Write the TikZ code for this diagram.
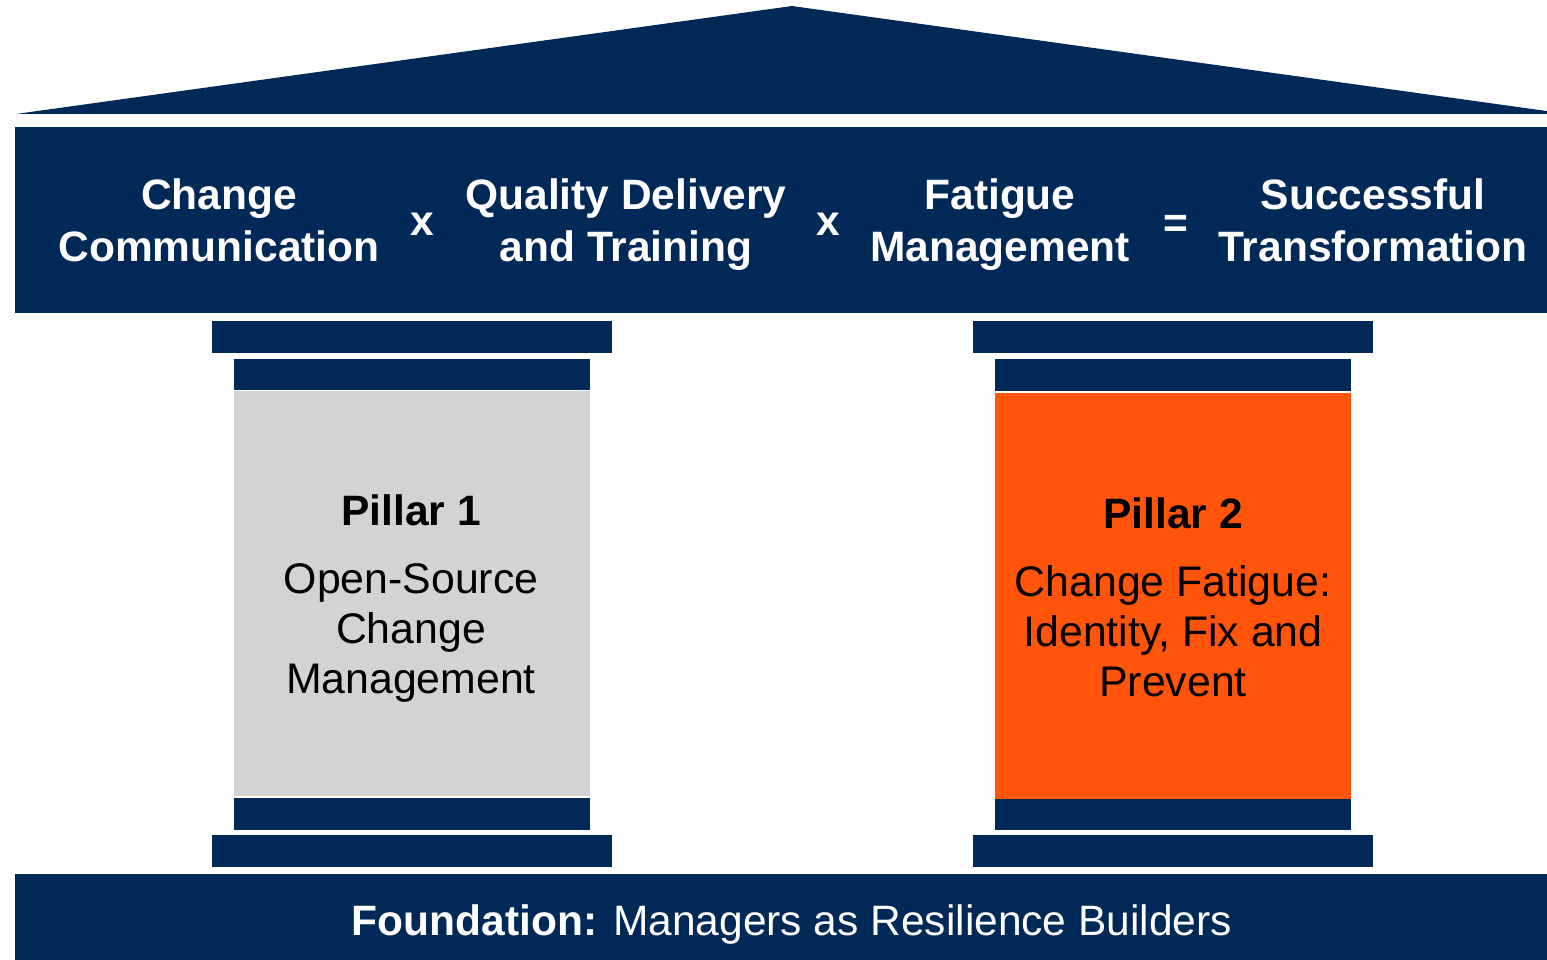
\documentclass[tikz,border=0pt]{standalone}
\usepackage{fontspec}
\setmainfont{Liberation Sans}
\definecolor{navy}{RGB}{0,41,87}
\definecolor{pillarorange}{RGB}{255,84,10}
\definecolor{pillargray}{RGB}{211,211,211}
\tikzset{
  toptext/.style={text=white,font=\fontsize{42.5}{50}\selectfont\bfseries,inner sep=0pt,anchor=base},
  optext/.style={text=white,font=\fontsize{42.5}{50}\selectfont\bfseries,inner sep=0pt,anchor=center},
  ptitle/.style={text=black,font=\fontsize{42.5}{50}\selectfont\bfseries,inner sep=0pt,anchor=base},
  pline/.style={text=black,font=\fontsize{42.8}{50}\selectfont,inner sep=0pt,anchor=base},
  foundtext/.style={text=white,font=\fontsize{42.5}{50}\selectfont,inner sep=0pt,anchor=base},
}
\begin{document}
\begin{tikzpicture}[x=1pt,y=-1pt]
\useasboundingbox (0,0) rectangle (1547,960);
\clip (0,0) rectangle (1547,960);
\fill[white] (0,0) rectangle (1547,960);
% roof
\fill[navy] (16,114) -- (792,6) -- (1568,114) -- cycle;
% beam
\fill[navy] (15,127) rectangle (1570,313);
% left pillar
\fill[navy] (212,321) rectangle (612,353);
\fill[navy] (234,359) rectangle (590,390);
\fill[pillargray] (234,391) rectangle (590,796);
\fill[navy] (234,798) rectangle (590,830);
\fill[navy] (212,835) rectangle (612,867);
% right pillar
\fill[navy] (973,321) rectangle (1373,353);
\fill[navy] (995,359) rectangle (1351,391);
\fill[pillarorange] (995,393) rectangle (1351,799);
\fill[navy] (995,799) rectangle (1351,830);
\fill[navy] (973,835) rectangle (1373,867);
% foundation
\fill[navy] (15,874) rectangle (1570,962);
% beam texts
\node[toptext] (t1a) at (219,210) {Change};
\node[toptext] (t1b) at (219,261) {Communication};
\node[optext] (x1) at (422,224) {x};
\node[toptext] (t2a) at (626,210) {Quality Delivery};
\node[toptext] (t2b) at (626,261) {and Training};
\node[optext] (x2) at (828,224) {x};
\node[toptext] (t3a) at (1000,210) {Fatigue};
\node[toptext] (t3b) at (1000,261) {Management};
\node[optext] (eq) at (1176,226) {=};
\node[toptext] (t4a) at (1373,210) {Successful};
\node[toptext] (t4b) at (1373,261) {Transformation};
% pillar 1 text
\node[ptitle] (p1t) at (411,525) {Pillar 1};
\node[pline] (p1a) at (411,593) {Open-Source};
\node[pline] (p1b) at (411,643) {Change};
\node[pline] (p1c) at (411,693) {Management};
% pillar 2 text
\node[ptitle] (p2t) at (1173,528) {Pillar 2};
\node[pline] (p2a) at (1173,596) {Change Fatigue:};
\node[pline] (p2b) at (1173,646) {Identity, Fix and};
\node[pline] (p2c) at (1173,696) {Prevent};
% foundation text
\node[foundtext] (ft) at (792,935) {\textbf{Foundation:} Managers as Resilience Builders};
\end{tikzpicture}
\end{document}
